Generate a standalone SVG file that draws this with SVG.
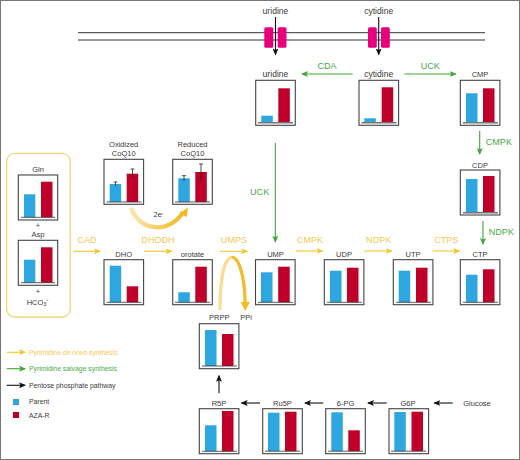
<svg xmlns="http://www.w3.org/2000/svg" width="520" height="460" viewBox="0 0 520 460">
<style>
text{font-family:"Liberation Sans",Arial,sans-serif;font-size:7.5px;fill:#3a3a3a;text-anchor:middle}
.w{font-size:8.6px}
.e{font-size:9.1px}
.y{fill:#f7c850}
.g{fill:#4aa84a}
.l{font-size:6.85px;text-anchor:start}
.box{fill:#fff;stroke:#444;stroke-width:1.1}
.b{fill:#2ea6df}
.r{fill:#bf0029}
.base{stroke:#333;stroke-width:.8}
.baseg{stroke:#777;stroke-width:1.4}
.err{stroke:#222;stroke-width:.8;fill:none}
.ay{stroke:#f5c52e;stroke-width:1.1;fill:none;marker-end:url(#my)}
.ag{stroke:#3fa535;stroke-width:1.1;fill:none;marker-end:url(#mg)}
.ak{stroke:#111;stroke-width:1.1;fill:none;marker-end:url(#mk)}
.mem{stroke:#333;stroke-width:1;fill:none}
.ch{fill:#e6007e}
</style>
<defs>
<marker id="my" markerWidth="7" markerHeight="6" refX="6" refY="3" orient="auto" markerUnits="userSpaceOnUse"><path d="M0 0L7 3L0 6L1.5 3Z" fill="#f5c52e"/></marker>
<marker id="mg" markerWidth="7" markerHeight="6" refX="6" refY="3" orient="auto" markerUnits="userSpaceOnUse"><path d="M0 0L7 3L0 6L1.5 3Z" fill="#3fa535"/></marker>
<marker id="mk" markerWidth="7" markerHeight="6" refX="6" refY="3" orient="auto" markerUnits="userSpaceOnUse"><path d="M0 0L7 3L0 6L1.5 3Z" fill="#111"/></marker>
<linearGradient id="gc" gradientUnits="userSpaceOnUse" x1="130" y1="210" x2="188" y2="210"><stop offset="0" stop-color="#fbe6b0"/><stop offset="1" stop-color="#f2b515"/></linearGradient>
</defs>
<rect x="0.5" y="0.5" width="519" height="459" fill="#fff" stroke="#777"/>

<g id="membrane">
<path class="mem" d="M78 32.7H485M78 40H485"/>
<rect class="ch" x="264.3" y="27.3" width="9" height="20.4" rx="1.5"/>
<rect class="ch" x="277.7" y="27.3" width="8.8" height="20.4" rx="1.5"/>
<rect class="ch" x="368" y="27.3" width="8.8" height="20.4" rx="1.5"/>
<rect class="ch" x="381" y="27.3" width="8.8" height="20.4" rx="1.5"/>
</g>

<g id="connectors">
<path class="ak" d="M275.5 17V54.5"/>
<path class="ak" d="M378.7 17V54.5"/>
<path class="ag" d="M352.7 74H302"/>
<path class="ag" d="M404.3 74H455.7"/>
<path class="ag" d="M479.7 130.7V154"/>
<path class="ag" d="M483 221V244"/>
<path class="ag" d="M275.3 143V241.7"/>
<path class="ay" d="M73.3 251.3H100"/>
<path class="ay" d="M144 251.3H171.7"/>
<path class="ay" d="M220 251.3H247.3"/>
<path class="ay" d="M296 251H322.7"/>
<path class="ay" d="M364.3 251H391.7"/>
<path class="ay" d="M432.7 251H459.3"/>
<path class="ak" d="M219 393.3V375.7"/>
<path class="ak" d="M260 403H241.7"/>
<path class="ak" d="M323.3 403H305"/>
<path class="ak" d="M386.7 403H368"/>
<path class="ak" d="M452.7 403H434.3"/>
<path d="M131 207.7C139 232 170 234 183 212" fill="none" stroke="url(#gc)" stroke-width="4.2"/>
<path d="M180 213.5L188 207.5L186.5 217Z" fill="#f2b515"/>
<path d="M220 310C220 280 224 258 232 257" fill="none" stroke="#fbdc94" stroke-width="3.2"/>
<path d="M232 257C240 258 245 280 245 303" fill="none" stroke="#f3bb26" stroke-width="3.2"/>
<path d="M240.5 302L250 302L245.3 311Z" fill="#f3bb26"/>
</g>

<g id="precursors">
<rect x="6.7" y="153.3" width="63.6" height="163.7" rx="8" fill="none" stroke="#f8d478" stroke-width="1.3"/>
<text x="38" y="171.7">Gln</text>
<text x="38" y="228">+</text>
<text x="38" y="237.3">Asp</text>
<text x="38" y="293.5">+</text>
<text x="38" y="304.5">HCO<tspan font-size="5.5" dy="1.5">3</tspan><tspan dy="-1.5">⁻</tspan></text>
</g>
<g id="node-gln"><rect class="box" x="18.3" y="175" width="39.4" height="45"/><rect class="b" x="24" y="194.3" width="11.3" height="23"/><rect class="r" x="41" y="181.7" width="11.5" height="35.6"/><path class="base" d="M21 217.3H55"/></g>
<g id="node-asp"><rect class="box" x="18.3" y="240.3" width="39.4" height="45"/><rect class="b" x="24" y="259.7" width="11.3" height="23"/><rect class="r" x="41" y="247.3" width="11.5" height="35.4"/><path class="base" d="M21 282.7H55"/></g>

<g id="node-oxidized"><text x="123.7" y="147">Oxidized</text><text x="123.7" y="156">CoQ10</text><rect class="box" x="104" y="159.3" width="39.6" height="45"/><rect class="b" x="109.7" y="184" width="11.5" height="18"/><rect class="r" x="126.7" y="173.7" width="11.5" height="28.3"/><path class="base" d="M106.5 202H141.5"/><path class="err" d="M115.5 182V186M113.7 182H117.3M132.5 169V178M130.5 169H134.5"/></g>
<g id="node-reduced"><text x="192.5" y="147">Reduced</text><text x="192.5" y="156">CoQ10</text><rect class="box" x="172.7" y="159.3" width="39.6" height="45"/><rect class="b" x="178.3" y="178.3" width="11.5" height="23.7"/><rect class="r" x="195.3" y="172" width="11.5" height="30"/><path class="base" d="M175 202H210"/><path class="err" d="M184 175.7V181M182 175.7H186M201 164V180.7M199 164H203"/></g>
<text x="158.5" y="217.3">2e<tspan font-size="5" dy="-2">-</tspan></text>

<g id="node-dho"><text x="123.7" y="256.7">DHO</text><rect class="box" x="104" y="259.7" width="39.6" height="45"/><rect class="b" x="109.7" y="265.7" width="11.5" height="36.6"/><rect class="r" x="126.7" y="286.3" width="11.5" height="16"/><path class="base" d="M106.5 302.3H141.5"/></g>
<g id="node-orotate"><text x="192.5" y="256.7">orotate</text><rect class="box" x="172.7" y="259.7" width="39.6" height="45"/><rect class="b" x="178.3" y="292.3" width="11.5" height="10"/><rect class="r" x="195.3" y="266.7" width="11.5" height="35.6"/><path class="base" d="M175 302.3H210"/></g>
<g id="node-ump"><text x="275.5" y="256.5">UMP</text><rect class="box" x="255.5" y="259.7" width="39.6" height="45"/><rect class="b" x="261" y="272.3" width="11.5" height="30"/><rect class="r" x="278.2" y="266.7" width="11.5" height="35.6"/><path class="base" d="M258 302.3H293"/></g>
<g id="node-udp"><text x="344" y="256.5">UDP</text><rect class="box" x="324.3" y="259.7" width="39.6" height="45"/><rect class="b" x="330" y="270.7" width="11.5" height="31.6"/><rect class="r" x="347" y="267.7" width="11.5" height="34.6"/><path class="base" d="M327 302.3H362"/></g>
<g id="node-utp"><text x="413" y="256.5">UTP</text><rect class="box" x="393.3" y="259.7" width="39.6" height="45"/><rect class="b" x="398.7" y="270.7" width="11.5" height="31.6"/><rect class="r" x="416" y="267.7" width="11.5" height="34.6"/><path class="base" d="M396 302.3H431"/></g>
<g id="node-ctp"><text x="480" y="256.5">CTP</text><rect class="box" x="460.3" y="259.7" width="39.6" height="45"/><rect class="b" x="466" y="274.7" width="11.5" height="27.6"/><rect class="r" x="483" y="269.3" width="11.5" height="33"/><path class="base" d="M463 302.3H498"/></g>
<g id="node-cdp"><text x="480" y="167.5">CDP</text><rect class="box" x="460.3" y="170" width="39.6" height="45"/><rect class="b" x="466" y="179" width="11.5" height="33.7"/><rect class="r" x="483" y="176" width="11.5" height="36.7"/><path class="baseg" d="M463 212.7H498"/></g>
<g id="node-uridine"><text class="w" x="275.5" y="77">uridine</text><rect class="box" x="255.7" y="80.3" width="39.6" height="45"/><rect class="b" x="261.3" y="115.7" width="11.5" height="7"/><rect class="r" x="278.3" y="88.3" width="11.5" height="34.4"/><path class="baseg" d="M258 122.7H293"/></g>
<g id="node-cytidine"><text class="w" x="378.7" y="77">cytidine</text><rect class="box" x="359" y="80.3" width="39.6" height="45"/><rect class="b" x="364.3" y="118.3" width="11.5" height="4.4"/><rect class="r" x="381.7" y="87.3" width="11.5" height="35.4"/><path class="baseg" d="M361.5 122.7H396.5"/></g>
<g id="node-cmp"><text x="480" y="76.5">CMP</text><rect class="box" x="460.3" y="80.3" width="39.6" height="45"/><rect class="b" x="466" y="93.3" width="11.5" height="29.4"/><rect class="r" x="483" y="88.3" width="11.5" height="34.4"/><path class="baseg" d="M463 122.7H498"/></g>
<g id="node-prpp"><text x="219.3" y="320">PRPP</text><rect class="box" x="199.3" y="323.7" width="39.6" height="45"/><rect class="b" x="205" y="330" width="11.5" height="36"/><rect class="r" x="222" y="334" width="11.5" height="32"/><path class="base" d="M202 366H237"/></g>
<text id="ppi" x="246" y="320">PPi</text>
<g id="node-r5p"><text x="219" y="405.5">R5P</text><rect class="box" x="199.3" y="408.7" width="39.6" height="45"/><rect class="b" x="205" y="425.3" width="11.5" height="26"/><rect class="r" x="222" y="411" width="11.5" height="40.3"/><path class="base" d="M202 451.3H237"/></g>
<g id="node-ru5p"><text x="282.5" y="405.5">Ru5P</text><rect class="box" x="262.7" y="408.7" width="39.6" height="45"/><rect class="b" x="268" y="412.7" width="11.5" height="38.5"/><rect class="r" x="285" y="411.7" width="11.5" height="39.5"/><path class="base" d="M265 451.2H300"/></g>
<g id="node-6pg"><text x="345.5" y="405.5">6-PG</text><rect class="box" x="325.7" y="408.7" width="39.6" height="45"/><rect class="b" x="331.3" y="412.3" width="11.5" height="38.9"/><rect class="r" x="348.3" y="430.3" width="11.5" height="20.9"/><path class="base" d="M328 451.2H363"/></g>
<g id="node-g6p"><text x="408" y="405.5">G6P</text><rect class="box" x="389" y="408.7" width="39.6" height="45"/><rect class="b" x="394.3" y="412" width="11.5" height="39.2"/><rect class="r" x="411.5" y="411.7" width="11.5" height="39.5"/><path class="base" d="M391 451.2H426"/></g>
<text id="glucose" x="477" y="405.5">Glucose</text>
<text id="ext-uridine" class="w" x="275.5" y="14">uridine</text>
<text id="ext-cytidine" class="w" x="378.7" y="14">cytidine</text>

<g id="enzymes">
<text class="e y" x="87" y="243">CAD</text>
<text class="e y" x="158" y="243">DHODH</text>
<text class="e y" x="234" y="243">UMPS</text>
<text class="e y" x="310" y="243">CMPK</text>
<text class="e y" x="378.7" y="243">NDPK</text>
<text class="e y" x="446.3" y="243">CTPS</text>
<text class="e g" x="327" y="69">CDA</text>
<text class="e g" x="430.3" y="69">UCK</text>
<text class="e g" x="485.7" y="145" style="text-anchor:start">CMPK</text>
<text class="e g" x="488.7" y="235" style="text-anchor:start">NDPK</text>
<text class="e g" x="250" y="195" style="text-anchor:start">UCK</text>
</g>

<g id="legend">
<path class="ay" d="M6.7 352.3H25"/>
<path class="ag" d="M6.7 368.7H25"/>
<path class="ak" d="M6.7 385.3H25"/>
<text class="l y" x="29" y="354.8">Pyrimidine <tspan font-style="italic">de novo</tspan> synthesis</text>
<text class="l g" x="29" y="371.3">Pyrimidine salvage synthesis</text>
<text class="l" x="29" y="387.8">Pentose phosphate pathway</text>
<rect class="b" x="13" y="399" width="6" height="6"/>
<rect class="r" x="13" y="412" width="6" height="6"/>
<text class="l" x="29" y="404.3">Parent</text>
<text class="l" x="29" y="417.7">AZA-R</text>
</g>
</svg>
